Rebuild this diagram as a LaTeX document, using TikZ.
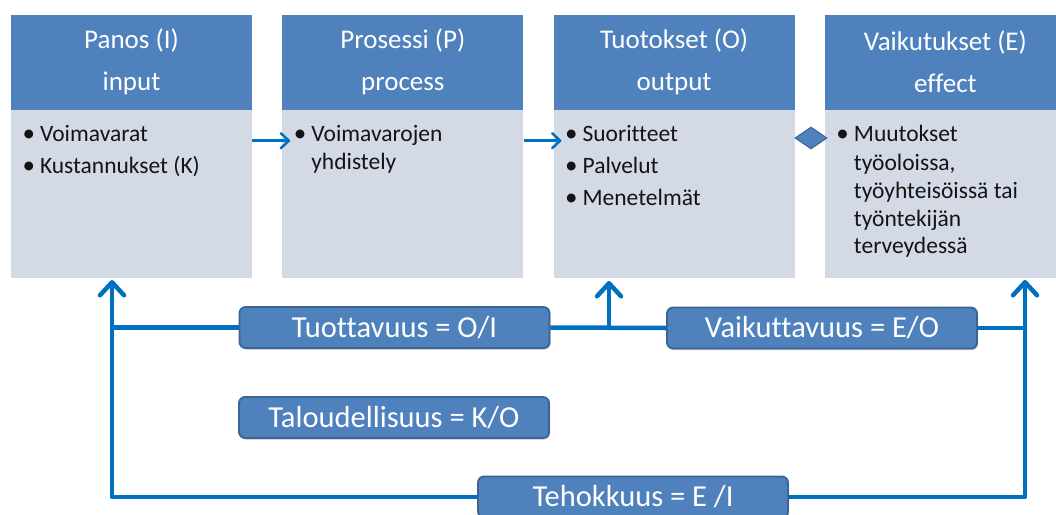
\documentclass[tikz,border=0pt]{standalone}
\usepackage{fontspec}
\setmainfont{Carlito}[Ligatures={NoCommon}]
\usetikzlibrary{arrows.meta,positioning,shapes.geometric,shadows,backgrounds}

\definecolor{headblue}{HTML}{4F81BD}
\definecolor{bodygray}{HTML}{D3DAE6}
\definecolor{linkblue}{HTML}{0070C0}
\definecolor{edgeblue}{HTML}{3A6396}
\definecolor{txtdark}{HTML}{141414}

\newcommand{\blt}{\hspace*{-3.5pt}{\fontsize{25}{27.5}\selectfont\textbullet}}

\tikzset{
  headbox/.style={fill=headblue, text=white, minimum width=241pt, minimum height=95pt,
    inner sep=0pt, align=center, font=\fontsize{27}{42}\selectfont},
  bodybox/.style={fill=bodygray, minimum width=241pt, minimum height=168pt, inner sep=0pt},
  itemlist/.style={inner sep=0pt, text=txtdark, anchor=base west,
    font=\fontsize{23.5}{27.5}\selectfont},
  ratiobox/.style={rounded corners=6pt, fill=headblue, draw=edgeblue, line width=1.8pt,
    text=white, minimum width=310pt, minimum height=41pt, inner sep=0pt,
    font=\fontsize{30.5}{36}\selectfont,
    drop shadow={shadow xshift=1pt, shadow yshift=-1.5pt, opacity=.25, fill=black}},
  linkline/.style={linkblue, line width=4.5pt, line join=round},
  uparrow/.style={linkline, -{Straight Barb[length=13pt, width=24pt, round]}},
  flowarrow/.style={linkblue, line width=2.5pt, -{Straight Barb[length=8pt, width=15pt, round]}},
  joint/.style={diamond, fill=headblue, draw=edgeblue, line width=1pt,
    minimum width=32pt, minimum height=22pt, inner sep=0pt}
}

\begin{document}
\begin{tikzpicture}[x=1pt, y=-1pt]
  \useasboundingbox (0,0) rectangle (1056,514);
  \clip (0,0) rectangle (1056,514);
  % the four stages
  \foreach \nm/\col/\ttl in {panos/0/{Panos (I)\\input}, pros/1/{Prosessi (P)\\process},
      tuot/2/{Tuotokset (O)\\output}, vaik/3/{Vaikutukset (E)\\effect}}{
    \node[headbox] (\nm) at ({131.5+271.3*\col},62) {\ttl};
    \node[bodybox, below=0pt of \nm] (\nm-b) {};
  }
  \node[itemlist] (panos-l) at ([xshift=15pt, yshift=-32pt]panos-b.north west)
    {\begin{tabular}[t]{@{}p{14pt}@{}l@{}}
      \blt & Voimavarat\\[4.5pt]
      \blt & Kustannukset (K)
    \end{tabular}};
  \node[itemlist] (pros-l) at ([xshift=15pt, yshift=-32pt]pros-b.north west)
    {\begin{tabular}[t]{@{}p{14pt}@{}l@{}}
      \blt & Voimavarojen\\
           & yhdistely
    \end{tabular}};
  \node[itemlist] (tuot-l) at ([xshift=15pt, yshift=-32pt]tuot-b.north west)
    {\begin{tabular}[t]{@{}p{14pt}@{}l@{}}
      \blt & Suoritteet\\[4.5pt]
      \blt & Palvelut\\[4.5pt]
      \blt & Menetelmät
    \end{tabular}};
  \node[itemlist] (vaik-l) at ([xshift=15pt, yshift=-32pt]vaik-b.north west)
    {\begin{tabular}[t]{@{}p{14pt}@{}l@{}}
      \blt & Muutokset\\[1pt]
           & työoloissa,\\[1pt]
           & työyhteisöissä tai\\
           & työntekijän\\
           & terveydessä
    \end{tabular}};
  % links between the stages
  \draw[flowarrow] ([yshift=-31pt]panos-b.north east) -- ([xshift=8pt, yshift=-31pt]pros-b.north west);
  \draw[flowarrow] ([yshift=-31pt]pros-b.north east) -- ([xshift=8pt, yshift=-31pt]tuot-b.north west);
  \node[joint] (tv) at (811,138) {};
  % the ratios
  \node[ratiobox] (tuott) at (394.5,327.5) {Tuottavuus = O/I};
  \node[ratiobox] (vaikt) at (822,328) {Vaikuttavuus = E/O};
  \node[ratiobox] (talous) at (394,417.5) {Taloudellisuus = K/O};
  \node[ratiobox] (teho) at (633,497) {Tehokkuus = E /I};
  \coordinate (inI) at (112,280);
  \coordinate (outO) at (609,281);
  \coordinate (effE) at (1025,280);
  \begin{scope}[on background layer]
    \draw[uparrow] (teho.west) -| (inI);
    \draw[linkline] (tuott.west) -- (tuott.west -| inI);
    \draw[linkline] (tuott.east) -- (vaikt.west);
    \draw[uparrow] (tuott.east -| outO) -- (outO);
    \draw[uparrow] (teho.east) -| (effE);
    \draw[linkline] (vaikt.east) -- (vaikt.east -| effE);
  \end{scope}
\end{tikzpicture}
\end{document}
